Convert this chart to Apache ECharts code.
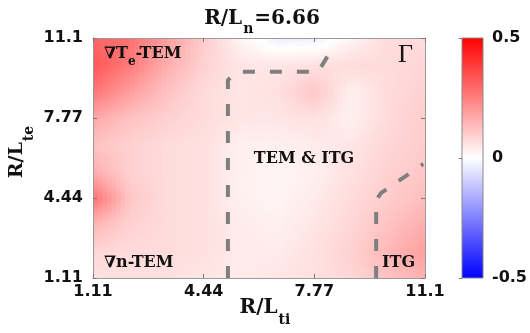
<!DOCTYPE html>
<html><head><meta charset="utf-8">
<script src="https://cdn.jsdelivr.net/npm/echarts@6/dist/echarts.min.js"></script>
<style>html,body{margin:0;padding:0;background:#fff;}#c{width:530px;height:333px;}</style>
</head><body><div id="c"></div>
<script>
// ---- data ----
const xValues = [1.11, 2.22, 3.33, 4.44, 5.55, 6.66, 7.77, 8.88, 9.99, 11.1]; // R/L_ti
const yValues = [1.11, 2.22, 3.33, 4.44, 5.55, 6.66, 7.77, 8.88, 9.99, 11.1]; // R/L_te
// particle flux Gamma, one row per yValue (bottom row first), one entry per xValue
const gammaRows = [
  [0.06, 0.06, 0.06, 0.05, 0.04, 0.05, 0.06, 0.08, 0.12, 0.15],
  [0.08, 0.07, 0.07, 0.06, 0.04, 0.04, 0.06, 0.09, 0.14, 0.19],
  [0.14, 0.09, 0.07, 0.06, 0.04, 0.03, 0.05, 0.08, 0.12, 0.16],
  [0.28, 0.11, 0.07, 0.06, 0.03, 0.02, 0.04, 0.07, 0.10, 0.13],
  [0.16, 0.09, 0.07, 0.06, 0.03, 0.02, 0.03, 0.06, 0.09, 0.11],
  [0.12, 0.09, 0.07, 0.06, 0.03, 0.03, 0.04, 0.05, 0.08, 0.10],
  [0.17, 0.12, 0.09, 0.07, 0.05, 0.05, 0.06, 0.03, 0.07, 0.10],
  [0.27, 0.19, 0.12, 0.07, 0.05, 0.06, 0.11, 0.03, 0.07, 0.09],
  [0.33, 0.26, 0.16, 0.09, 0.05, 0.05, 0.06, 0.07, 0.07, 0.08],
  [0.30, 0.28, 0.19, 0.10, 0.02, -0.03, -0.03, 0.02, 0.07, 0.07]
];
const axisTickValues = [1.11, 4.44, 7.77, 11.1];
const colorbarTickValues = [-0.5, 0, 0.5];
const colorStops = [-0.5, 0, 0.5];
const colorStopColors = ['#0000ff', '#ffffff', '#ff0000'];
// regime boundaries (R/L_ti, R/L_te)
const boundaryTEM = [[5.17, 1.11], [5.17, 9.35], [5.45, 9.69], [7.88, 9.69], [8.36, 10.77]];
const boundaryITG = [[9.63, 1.11], [9.63, 4.36], [9.78, 4.65], [11.05, 5.86]];

// ---- helpers ----
const vmin = colorStops[0], vmax = colorStops[colorStops.length - 1];
function colorOf(v) {
  const t = Math.max(0, Math.min(1, (v - vmin) / (vmax - vmin)));
  return echarts.color.lerp(t, colorStopColors);
}
const cells = [];
for (let j = 0; j < yValues.length - 1; j++) {
  for (let i = 0; i < xValues.length - 1; i++) {
    cells.push([xValues[i], yValues[j], i, j]);
  }
}

const SERIF = 'DejaVu Serif';
const SANS = 'DejaVu Sans';
const tickLabel = { fontFamily: SANS, fontWeight: 'bold', fontSize: 16, color: '#111' };
const frameColor = '#9a9a9a';

const chart = echarts.init(document.getElementById('c'), null, { renderer: 'canvas' });
chart.setOption({
  animation: false,
  backgroundColor: '#fff',
  grid: [
    { left: 93, top: 38, width: 332, height: 240 },
    { left: 462, top: 38, width: 26, height: 240 }
  ],
  xAxis: [
    { type: 'value', gridIndex: 0, min: 1.11, max: 11.1, z: 10,
      axisLine: { show: true, lineStyle: { color: frameColor, width: 1 } },
      axisTick: { show: true, inside: true, length: 4, customValues: axisTickValues, lineStyle: { color: '#777' } },
      axisLabel: { customValues: axisTickValues, margin: 6, ...tickLabel },
      splitLine: { show: false } },
    { type: 'value', gridIndex: 0, position: 'top', min: 1.11, max: 11.1, z: 10,
      axisLine: { show: true, lineStyle: { color: frameColor, width: 1 } },
      axisTick: { show: true, inside: true, length: 4, customValues: axisTickValues, lineStyle: { color: '#777' } },
      axisLabel: { show: false }, splitLine: { show: false } },
    { type: 'value', gridIndex: 1, min: 0, max: 1, show: false }
  ],
  yAxis: [
    { type: 'value', gridIndex: 0, min: 1.11, max: 11.1, z: 10,
      axisLine: { show: true, lineStyle: { color: frameColor, width: 1 } },
      axisTick: { show: true, inside: true, length: 4, customValues: axisTickValues, lineStyle: { color: '#777' } },
      axisLabel: { customValues: axisTickValues, margin: 10, ...tickLabel },
      splitLine: { show: false } },
    { type: 'value', gridIndex: 0, position: 'right', min: 1.11, max: 11.1, z: 10,
      axisLine: { show: true, lineStyle: { color: frameColor, width: 1 } },
      axisTick: { show: true, inside: true, length: 4, customValues: axisTickValues, lineStyle: { color: '#777' } },
      axisLabel: { show: false }, splitLine: { show: false } },
    { type: 'value', gridIndex: 1, position: 'right', min: -0.5, max: 0.5, z: 10,
      axisLine: { show: false },
      axisTick: { show: true, inside: true, length: 3, customValues: colorbarTickValues, lineStyle: { color: '#777' } },
      axisLabel: { customValues: colorbarTickValues, margin: 9, ...tickLabel },
      splitLine: { show: false } }
  ],
  series: [
    {
      type: 'custom', xAxisIndex: 0, yAxisIndex: 0, clip: true, silent: true,
      encode: { x: 0, y: 1 },
      data: cells,
      renderItem: function (params, api) {
        const i = api.value(2), j = api.value(3);
        const v00 = gammaRows[j][i], v10 = gammaRows[j][i + 1];
        const v01 = gammaRows[j + 1][i], v11 = gammaRows[j + 1][i + 1];
        const p0 = api.coord([xValues[i], yValues[j]]);
        const p1 = api.coord([xValues[i + 1], yValues[j + 1]]);
        const N = 8;
        const w = (p1[0] - p0[0]) / N, h = (p0[1] - p1[1]) / N;
        const children = [];
        for (let a = 0; a < N; a++) {
          for (let b = 0; b < N; b++) {
            const u = (a + 0.5) / N, s = (b + 0.5) / N;
            const v = v00 * (1 - u) * (1 - s) + v10 * u * (1 - s) + v01 * (1 - u) * s + v11 * u * s;
            children.push({ type: 'rect',
              shape: { x: p0[0] + a * w, y: p0[1] - (b + 1) * h, width: w + 0.7, height: h + 0.7 },
              style: { fill: colorOf(v) } });
          }
        }
        return { type: 'group', children: children };
      }
    },
    { type: 'line', xAxisIndex: 0, yAxisIndex: 0, data: boundaryTEM, symbol: 'none', silent: true, z: 5,
      lineStyle: { color: '#7f7f7f', width: 4, type: [12, 15], cap: 'butt' } },
    { type: 'line', xAxisIndex: 0, yAxisIndex: 0, data: boundaryITG, symbol: 'none', silent: true, z: 5,
      lineStyle: { color: '#7f7f7f', width: 4, type: [12, 15], cap: 'butt' } },
    {
      type: 'custom', xAxisIndex: 2, yAxisIndex: 2, silent: true,
      data: [[0, vmin]],
      renderItem: function (params, api) {
        const pA = api.coord([0, vmin]);
        const pB = api.coord([1, vmax]);
        return { type: 'rect',
          shape: { x: pA[0], y: pB[1], width: pB[0] - pA[0], height: pA[1] - pB[1] },
          style: { fill: { type: 'linear', x: 0, y: 1, x2: 0, y2: 0,
              colorStops: colorStops.map((s, k) => ({ offset: (s - vmin) / (vmax - vmin), color: colorStopColors[k] })) },
            stroke: '#8a8a8a', lineWidth: 1 } };
      }
    }
  ],
  graphic: [
    { type: 'text', x: 262, y: 9, z: 100, style: { text: '{m|R/L}{s|n}{m|=6.66}', textAlign: 'center', fill: '#111',
      rich: { m: { fontFamily: SERIF, fontWeight: 'bold', fontSize: 20, lineHeight: 22, verticalAlign: 'top' },
              s: { fontFamily: SERIF, fontWeight: 'bold', fontSize: 14, verticalAlign: 'top', padding: [13, 1, 0, 1] } } } },
    { type: 'text', x: 265, y: 298, z: 100, style: { text: '{m|R/L}{s|ti}', textAlign: 'center', fill: '#111',
      rich: { m: { fontFamily: SERIF, fontWeight: 'bold', fontSize: 20, lineHeight: 22, verticalAlign: 'top' },
              s: { fontFamily: SERIF, fontWeight: 'bold', fontSize: 14, verticalAlign: 'top', padding: [15, 0, 0, 1] } } } },
    { type: 'text', x: 8, y: 152, rotation: Math.PI / 2, z: 100, style: { text: '{m|R/L}{s|te}', textAlign: 'center', fill: '#111',
      rich: { m: { fontFamily: SERIF, fontWeight: 'bold', fontSize: 19, lineHeight: 22, verticalAlign: 'top' },
              s: { fontFamily: SERIF, fontWeight: 'bold', fontSize: 14, verticalAlign: 'top', padding: [14, 0, 0, 1] } } } },
    { type: 'text', x: 104, y: 46, z: 100, style: { text: '{m|∇T}{s|e}{m|-TEM}', fill: '#111',
      rich: { m: { fontFamily: SERIF, fontWeight: 'bold', fontSize: 16, lineHeight: 18, verticalAlign: 'top' },
              s: { fontFamily: SERIF, fontWeight: 'bold', fontSize: 12, verticalAlign: 'top', padding: [10, 0, 0, 0] } } } },
    { type: 'text', x: 398, y: 42, z: 100, style: { text: 'Γ', fill: '#111', font: '26px "Liberation Serif"' } },
    { type: 'text', x: 304, y: 151, z: 100, style: { text: 'TEM & ITG', textAlign: 'center', fill: '#111', font: 'bold 16px "DejaVu Serif"' } },
    { type: 'text', x: 104, y: 255, z: 100, style: { text: '∇n-TEM', fill: '#111', font: 'bold 16px "DejaVu Serif"' } },
    { type: 'text', x: 382, y: 255, z: 100, style: { text: 'ITG', fill: '#111', font: 'bold 16px "DejaVu Serif"' } }
  ]
});
</script></body></html>
